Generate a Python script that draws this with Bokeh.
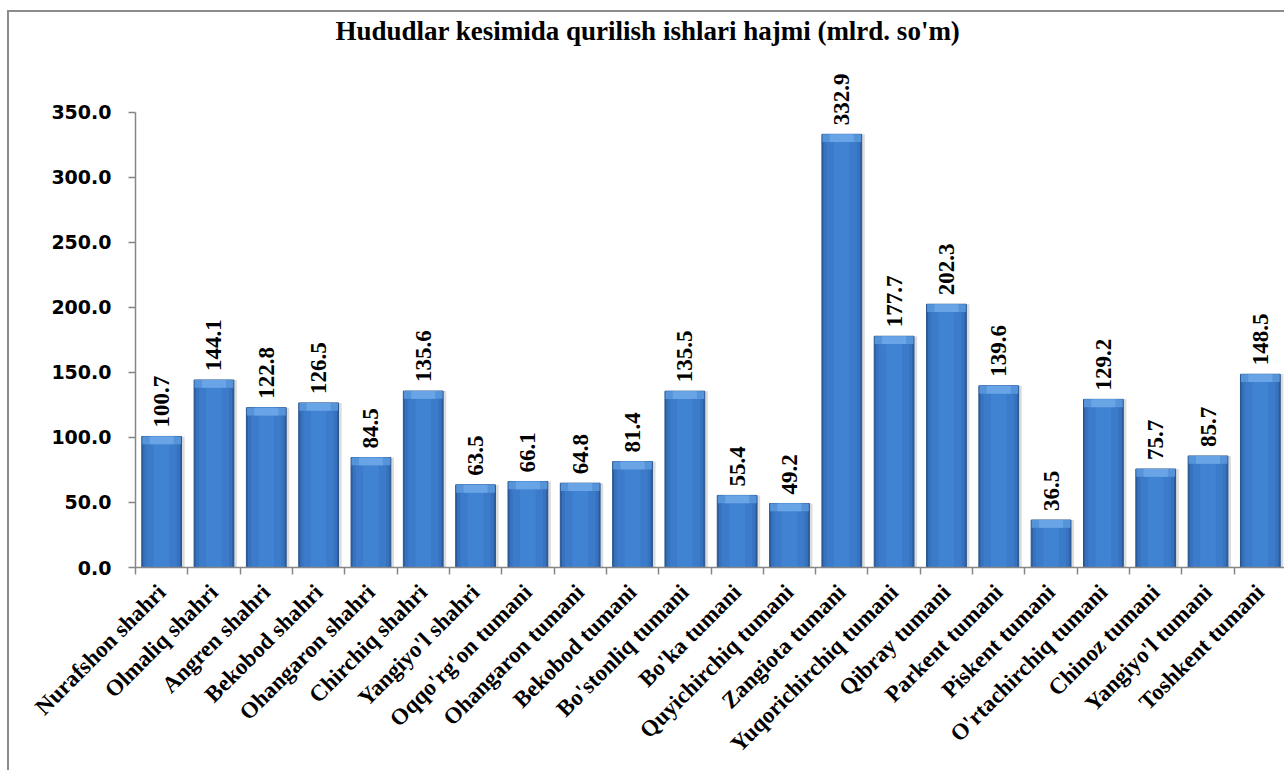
import math
from bokeh.plotting import figure
from bokeh.models import (ColumnDataSource, Range1d, FixedTicker, PrintfTickFormatter,
                          LabelSet, Label)
from bokeh.embed import file_html
from bokeh.resources import INLINE

categories = ["Nurafshon shahri", "Olmaliq shahri", "Angren shahri", "Bekobod shahri",
              "Ohangaron shahri", "Chirchiq shahri", "Yangiyo'l shahri", "Oqqo'rg'on tumani",
              "Ohangaron tumani", "Bekobod tumani", "Bo'stonliq tumani", "Bo'ka tumani",
              "Quyichirchiq tumani", "Zangiota tumani", "Yuqorichirchiq tumani", "Qibray tumani",
              "Parkent tumani", "Piskent tumani", "O'rtachirchiq tumani", "Chinoz tumani",
              "Yangiyo'l tumani", "Toshkent tumani"]
values = [100.7, 144.1, 122.8, 126.5, 84.5, 135.6, 63.5, 66.1, 64.8, 81.4, 135.5, 55.4,
          49.2, 332.9, 177.7, 202.3, 139.6, 36.5, 129.2, 75.7, 85.7, 148.5]
y_ticks = [0, 50, 100, 150, 200, 250, 300, 350]
title_text = "Hududlar kesimida qurilish ishlari hajmi  (mlrd. so'm)"

n = len(categories)
xs = [i + 0.5 for i in range(n)]
cap = 6.0
src = ColumnDataSource(dict(
    x=xs, top=values,
    xs_shadow=[x + 0.05 for x in xs],
    cap_bottom=[v - cap for v in values],
    label=["%.1f" % v for v in values],
))

p = figure(width=1277, height=760, output_backend="svg", toolbar_location=None,
           x_range=Range1d(0, n), y_range=Range1d(0, 426.5),
           min_border_left=126, min_border_right=0, min_border_top=0,
           min_border_bottom=205)
p.styles = {"border-left": "2px solid #8c8c8c", "border-top": "2px solid #8c8c8c",
            "transform": "translate(7px, 10px)"}
p.outline_line_color = None
p.grid.visible = False
p.background_fill_color = "white"
p.border_fill_color = "white"

# soft shadow and bars with simple bevel shading
p.vbar(x="xs_shadow", top="top", bottom=0, width=0.78, source=src,
       fill_color="#dcdcdc", line_color=None)
p.vbar(x="x", top="top", bottom=0, width=0.76, source=src,
       fill_color="#2C5E9F", line_color="#28558f", line_width=1)
p.vbar(x="x", top="top", bottom=0, width=0.70, source=src,
       fill_color="#3672BE", line_color=None)
p.vbar(x="x", top="top", bottom=0, width=0.58, source=src,
       fill_color="#3B7BCA", line_color=None)
p.vbar(x="x", top="top", bottom=0, width=0.30, source=src,
       fill_color="#4083D2", line_color=None)
p.vbar(x="x", top="top", bottom="cap_bottom", width=0.74, source=src,
       fill_color="#5694DA", line_color=None)
p.vbar(x="x", top="top", bottom="cap_bottom", width=0.46, source=src,
       fill_color="#68A4E6", line_color=None)

labels = LabelSet(x="x", y="top", text="label", source=src, angle=math.pi / 2,
                  text_align="left", text_baseline="middle", y_offset=9,
                  text_font="Liberation Serif", text_font_style="bold",
                  text_font_size="23px", text_color="black")
p.add_layout(labels)

# y axis
ya = p.yaxis[0]
ya.ticker = FixedTicker(ticks=y_ticks)
ya.bounds = (0, 350)
ya.formatter = PrintfTickFormatter(format="%.1f")
ya.axis_line_color = "#868686"
ya.axis_line_width = 1.5
ya.major_tick_line_color = "#868686"
ya.major_tick_line_width = 1.5
ya.major_tick_out = 7
ya.major_tick_in = 0
ya.minor_tick_line_color = None
ya.major_label_standoff = 17
ya.major_label_text_font = "DejaVu Sans"
ya.major_label_text_font_style = "bold"
ya.major_label_text_font_size = "19px"
ya.major_label_text_color = "black"

# x axis
xa = p.xaxis[0]
xa.ticker = FixedTicker(ticks=xs, minor_ticks=list(range(n + 1)))
xa.major_label_overrides = {x: c for x, c in zip(xs, categories)}
xa.axis_line_color = "#868686"
xa.axis_line_width = 1.5
xa.major_tick_line_color = None
xa.minor_tick_line_color = "#868686"
xa.minor_tick_line_width = 1.5
xa.minor_tick_out = 7
xa.minor_tick_in = 0
xa.major_label_orientation = math.pi / 4
xa.major_label_standoff = 14
xa.major_label_text_font = "Liberation Serif"
xa.major_label_text_font_style = "bold"
xa.major_label_text_font_size = "23px"
xa.major_label_text_color = "black"

title = Label(x=200, y=537, x_units="screen", y_units="screen", text=title_text,
              text_align="left", text_baseline="middle", text_font="Liberation Serif",
              text_font_style="bold", text_font_size="27px", text_color="black")
p.add_layout(title)

open("out.html", "w").write(file_html(p, INLINE))
